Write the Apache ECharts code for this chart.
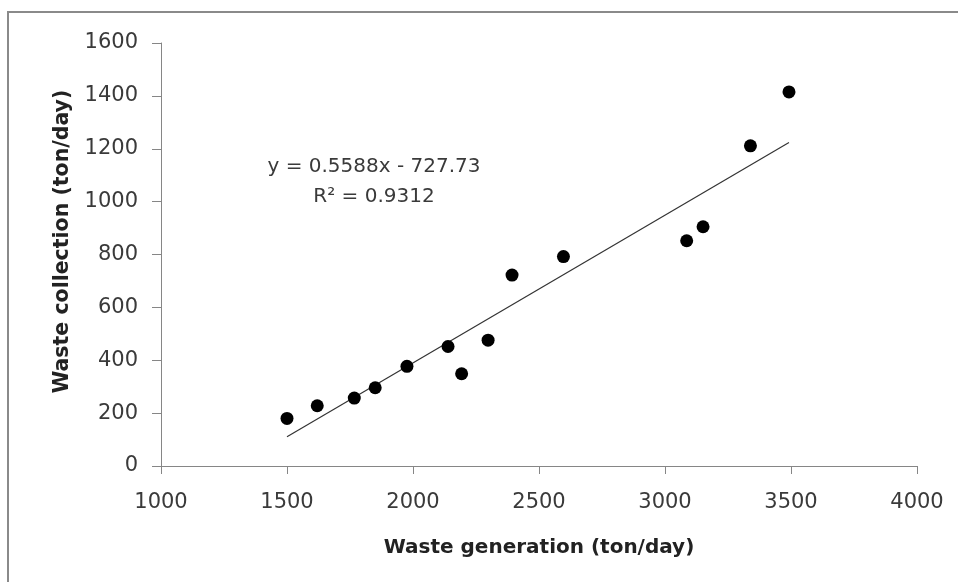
<!DOCTYPE html>
<html>
<head>
<meta charset="utf-8">
<script src="https://cdn.jsdelivr.net/npm/echarts@6/dist/echarts.min.js"></script>
<style>
html,body{margin:0;padding:0;background:#fff;}
#chart{width:958px;height:582px;}
</style>
</head>
<body>
<div id="chart"></div>
<script>
// Data
const wasteGeneration = [1500, 1620, 1767, 1850, 1976, 2139, 2193, 2298, 2393, 2597, 3086, 3151, 3339, 3492];
const wasteCollection = [180, 228, 257, 296, 377, 452, 349, 476, 722, 792, 852, 905, 1211, 1415];
const trendSlope = 0.5588;
const trendIntercept = -727.73;
const equationLabel = 'y = 0.5588x - 727.73';
const r2Label = 'R² = 0.9312';
const xTitle = 'Waste generation (ton/day)';
const yTitle = 'Waste collection (ton/day)';

const points = wasteGeneration.map((x, i) => [x, wasteCollection[i]]);
const xMin = Math.min(...wasteGeneration), xMax = Math.max(...wasteGeneration);
const trend = [xMin, xMax].map(x => [x, trendSlope * x + trendIntercept]);

const FONT = 'DejaVu Sans';
const plain = v => String(v);
const chart = echarts.init(document.getElementById('chart'), null, {renderer: 'canvas'});
chart.setOption({
  animation: false,
  backgroundColor: '#fff',
  grid: {left: 161, right: 41, top: 43, bottom: 116},
  xAxis: {
    type: 'value', min: 1000, max: 4000, interval: 500,
    name: xTitle, nameLocation: 'middle', nameGap: 72,
    nameTextStyle: {fontFamily: FONT, fontWeight: 'bold', fontSize: 20, color: '#222'},
    axisLine: {show: true, onZero: false, lineStyle: {color: '#868686', width: 1}},
    axisTick: {show: true, length: 8, lineStyle: {color: '#868686'}},
    axisLabel: {fontFamily: FONT, fontSize: 21, color: '#3a3a3a', margin: 26, formatter: plain},
    splitLine: {show: false}
  },
  yAxis: {
    type: 'value', min: 0, max: 1600, interval: 200,
    name: yTitle, nameLocation: 'middle', nameGap: 88, nameRotate: 90,
    nameTextStyle: {fontFamily: FONT, fontWeight: 'bold', fontSize: 20.5, color: '#222', padding: [0, 0, 0, 26]},
    axisLine: {show: true, lineStyle: {color: '#868686', width: 1}},
    axisTick: {show: true, length: 9, lineStyle: {color: '#868686'}},
    axisLabel: {fontFamily: FONT, fontSize: 21, color: '#3a3a3a', margin: 23, formatter: plain},
    splitLine: {show: false}
  },
  series: [
    {
      type: 'line', data: trend, symbol: 'none', silent: true,
      lineStyle: {color: '#333', width: 1.2}, z: 1
    },
    {
      type: 'scatter', data: points, symbol: 'circle', symbolSize: 13,
      itemStyle: {color: '#000', opacity: 1}, z: 2
    }
  ],
  graphic: [
    {type: 'line', shape: {x1: 7, y1: 12, x2: 958, y2: 12}, style: {stroke: '#8a8a8a', lineWidth: 2}},
    {type: 'line', shape: {x1: 8, y1: 12, x2: 8, y2: 582}, style: {stroke: '#8a8a8a', lineWidth: 2}},
    {type: 'text', x: 374, y: 167, style: {text: equationLabel, fontFamily: FONT, fontSize: 20, fill: '#3a3a3a', textAlign: 'center', textVerticalAlign: 'middle'}},
    {type: 'text', x: 374, y: 197, style: {text: r2Label, fontFamily: FONT, fontSize: 20, fill: '#3a3a3a', textAlign: 'center', textVerticalAlign: 'middle'}}
  ]
});
</script>
</body>
</html>
